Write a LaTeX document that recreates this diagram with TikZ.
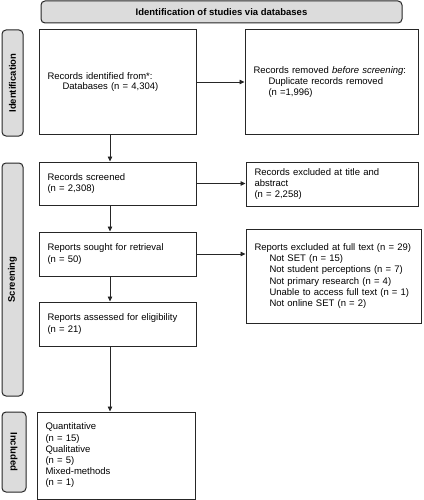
\documentclass[tikz,border=0pt]{standalone}
\usepackage{xcolor}
\usepackage{fontspec}
\setmainfont{Liberation Sans}
\usepackage{tikz}
\usetikzlibrary{shapes, arrows.meta, positioning}
\definecolor{sidegray}{RGB}{220,220,220}

\begin{document}
\begin{tikzpicture}
  [
    x=1pt, y=-1pt,
    Side/.style={rectangle, rounded corners=4pt, draw=black!85, fill=sidegray, line width=1pt, font=\fontsize{9.5}{11.2}\selectfont\bfseries, inner sep=0pt},
    Box/.style={rectangle, draw=black!85, line width=1pt, align=left, inner xsep=8.5pt, inner ysep=0pt, font=\fontsize{9.5}{11.2}\selectfont},
    Flow/.style={-{Triangle[length=5pt, width=4.5pt]}, draw=black!85, line width=0.8pt}
  ]
  \useasboundingbox (0,0) rectangle (423,500);

  % Nodes
  \node[Side, minimum width=361pt, minimum height=22pt] (title) at(221.5, 12) {Identification of studies via databases};
  \node[Side, rotate=90, minimum width=106pt, minimum height=21pt] (identification) at(12.5, 83) {Identification};
  \node[Side, rotate=90, minimum width=233pt, minimum height=21pt] (screening) at(12.5, 279.5) {Screening};
  \node[Side, rotate=-90, minimum width=80pt, minimum height=24pt] (included) at(14, 452) {Included};

  \node[Box, text width=140pt, minimum height=104pt] (identified) at(117.5, 82) {Records identified from*:\\[-1pt]\hspace*{15pt}Databases (n = 4,304)\\[8pt]};
  \node[Box, text width=156pt, minimum height=104pt] (removed) at(331.5, 82) {Records removed \textit{before screening}:\\\hspace*{15pt}Duplicate records removed\\\hspace*{15pt}(n =1,996)\\[2pt]};
  \node[Box, text width=140pt, minimum height=43pt] (screened) at(117.5, 183.5) {Records screened\\(n = 2,308)};
  \node[Box, text width=155pt, minimum height=44pt] (excluded) at(332, 184) {Records excluded at title and\\abstract\\(n = 2,258)};
  \node[Box, text width=140pt, minimum height=44pt] (sought) at(117.5, 254) {Reports sought for retrieval\\(n = 50)};
  \node[Box, text width=158pt, minimum height=94pt] (fulltext) at(333.5, 276) {Reports excluded at full text (n = 29)\\\hspace*{15pt}Not SET (n = 15)\\\hspace*{15pt}Not student perceptions (n = 7)\\\hspace*{15pt}Not primary research (n = 4)\\\hspace*{15pt}Unable to access full text (n = 1)\\\hspace*{15pt}Not online SET (n = 2)};
  \node[Box, text width=140pt, minimum height=44pt] (assessed) at(117.5, 324) {Reports assessed for eligibility\\(n = 21)};
  \node[Box, text width=141pt, minimum height=87pt] (studies) at(116, 455.5) {Quantitative\\(n = 15)\\Qualitative\\(n = 5)\\Mixed-methods\\(n = 1)};

  % Lines
  \path [Flow] (identified.east) -- (removed.west);
  \path [Flow] (screened.east) -- (screened.east -| excluded.west);
  \path [Flow] (sought.east) -- (sought.east -| fulltext.west);
  \path [Flow] ([xshift=-7.5pt]identified.south) -- ([xshift=-7.5pt]screened.north);
  \path [Flow] ([xshift=-7.5pt]screened.south) -- ([xshift=-7.5pt]sought.north);
  \path [Flow] ([xshift=-7.5pt]sought.south) -- ([xshift=-7.5pt]assessed.north);
  \path [Flow] ([xshift=-7.5pt]assessed.south) -- ([xshift=-6pt]studies.north);

\end{tikzpicture}
\end{document}
